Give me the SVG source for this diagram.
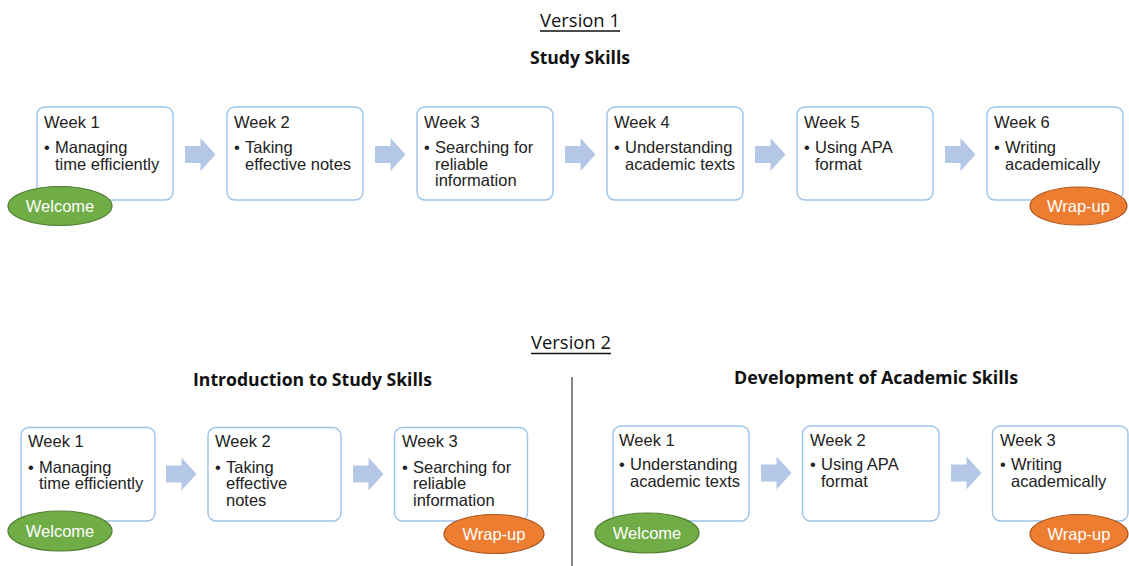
<svg xmlns="http://www.w3.org/2000/svg" xmlns:xlink="http://www.w3.org/1999/xlink" width="1129" height="566" viewBox="0 0 1129 566">
<defs>
<style>
.box{fill:#fff;stroke:#9DC3E6;stroke-width:1.4}
.t{font-family:"Liberation Sans",Arial,sans-serif;font-size:16.5px;fill:#222}
.h{font-family:"Open Sans","Liberation Sans",sans-serif;font-size:19px;fill:#111;text-anchor:middle}
.hb{font-family:"Open Sans","Liberation Sans",sans-serif;font-size:17.5px;font-weight:bold;fill:#111;text-anchor:middle}
.arr{fill:#B4C7E7}
.wel{fill:#70AD47;stroke:#507E32;stroke-width:1.2}
.wrap{fill:#ED7D31;stroke:#AE5A21;stroke-width:1.2}
.et{font-family:"Liberation Sans",Arial,sans-serif;font-size:16.5px;fill:#fff;text-anchor:middle}
</style>
<path id="arrow" class="arr" d="M0,-8.5 H15.5 V-16.5 L30.5,0 L15.5,16.5 V8.5 H0 Z"/>
</defs>
<rect width="1129" height="566" fill="#fff"/>

<g id="titles">
<text class="h" x="580" y="27" textLength="80" lengthAdjust="spacingAndGlyphs">Version 1</text>
<line x1="540" y1="31" x2="620" y2="31" stroke="#111" stroke-width="1.3"/>
<text class="hb" x="580" y="63.5" textLength="100" lengthAdjust="spacingAndGlyphs">Study Skills</text>
<text class="h" x="571" y="349" textLength="80" lengthAdjust="spacingAndGlyphs">Version 2</text>
<line x1="531" y1="353.5" x2="611" y2="353.5" stroke="#111" stroke-width="1.3"/>
<text class="hb" x="312.5" y="386" textLength="239" lengthAdjust="spacingAndGlyphs">Introduction to Study Skills</text>
<text class="hb" x="876" y="384" textLength="284" lengthAdjust="spacingAndGlyphs">Development of Academic Skills</text>
<line x1="572" y1="377" x2="572" y2="566" stroke="#444" stroke-width="1.3"/>
</g>

<g id="connectors">
<use xlink:href="#arrow" x="185" y="154.5"/>
<use xlink:href="#arrow" x="375" y="154.5"/>
<use xlink:href="#arrow" x="565" y="154.5"/>
<use xlink:href="#arrow" x="755" y="154.5"/>
<use xlink:href="#arrow" x="945" y="154.5"/>
<use xlink:href="#arrow" x="166" y="474"/>
<use xlink:href="#arrow" x="353" y="474"/>
<use xlink:href="#arrow" x="761" y="473"/>
<use xlink:href="#arrow" x="951" y="473"/>
</g>

<!-- Version 1 -->
<g id="v1-week1">
<rect class="box" x="37" y="107" width="136" height="93" rx="8"/>
<text class="t" x="44" y="128">Week 1</text>
<text class="t" x="44" y="153">•</text>
<text class="t" x="55" y="153">Managing</text>
<text class="t" x="55" y="169.5">time efficiently</text>
</g>
<g id="v1-week2">
<rect class="box" x="227" y="107" width="136" height="93" rx="8"/>
<text class="t" x="234" y="128">Week 2</text>
<text class="t" x="234" y="153">•</text>
<text class="t" x="245" y="153">Taking</text>
<text class="t" x="245" y="169.5">effective notes</text>
</g>
<g id="v1-week3">
<rect class="box" x="417" y="107" width="136" height="93" rx="8"/>
<text class="t" x="424" y="128">Week 3</text>
<text class="t" x="424" y="153">•</text>
<text class="t" x="435" y="153">Searching for</text>
<text class="t" x="435" y="169.5">reliable</text>
<text class="t" x="435" y="186">information</text>
</g>
<g id="v1-week4">
<rect class="box" x="607" y="107" width="136" height="93" rx="8"/>
<text class="t" x="614" y="128">Week 4</text>
<text class="t" x="614" y="153">•</text>
<text class="t" x="625" y="153">Understanding</text>
<text class="t" x="625" y="169.5">academic texts</text>
</g>
<g id="v1-week5">
<rect class="box" x="797" y="107" width="136" height="93" rx="8"/>
<text class="t" x="804" y="128">Week 5</text>
<text class="t" x="804" y="153">•</text>
<text class="t" x="815" y="153">Using APA</text>
<text class="t" x="815" y="169.5">format</text>
</g>
<g id="v1-week6">
<rect class="box" x="987" y="107" width="136" height="93" rx="8"/>
<text class="t" x="994" y="128">Week 6</text>
<text class="t" x="994" y="153">•</text>
<text class="t" x="1005" y="153">Writing</text>
<text class="t" x="1005" y="169.5">academically</text>
</g>
<g id="v1-welcome">
<ellipse class="wel" cx="60" cy="206" rx="52" ry="19.5"/>
<text class="et" x="60" y="212">Welcome</text>
</g>
<g id="v1-wrapup">
<ellipse class="wrap" cx="1078.5" cy="206" rx="48.5" ry="19"/>
<text class="et" x="1078.5" y="212">Wrap-up</text>
</g>

<!-- Version 2 left -->
<g id="v2a-week1">
<rect class="box" x="21" y="427.5" width="134" height="93.5" rx="8"/>
<text class="t" x="28" y="447">Week 1</text>
<text class="t" x="28" y="472.5">•</text>
<text class="t" x="39" y="472.5">Managing</text>
<text class="t" x="39" y="489">time efficiently</text>
</g>
<g id="v2a-week2">
<rect class="box" x="208" y="427.5" width="133" height="93.5" rx="8"/>
<text class="t" x="215" y="447">Week 2</text>
<text class="t" x="215" y="472.5">•</text>
<text class="t" x="226" y="472.5">Taking</text>
<text class="t" x="226" y="489">effective</text>
<text class="t" x="226" y="505.5">notes</text>
</g>
<g id="v2a-week3">
<rect class="box" x="394.5" y="427.5" width="133" height="93.5" rx="8"/>
<text class="t" x="402" y="447">Week 3</text>
<text class="t" x="402" y="472.5">•</text>
<text class="t" x="413" y="472.5">Searching for</text>
<text class="t" x="413" y="489">reliable</text>
<text class="t" x="413" y="505.5">information</text>
</g>
<g id="v2a-welcome">
<ellipse class="wel" cx="60" cy="531" rx="52" ry="20"/>
<text class="et" x="60" y="537">Welcome</text>
</g>
<g id="v2a-wrapup">
<ellipse class="wrap" cx="494" cy="534" rx="50" ry="19.5"/>
<text class="et" x="494" y="540">Wrap-up</text>
</g>

<!-- Version 2 right -->
<g id="v2b-week1">
<rect class="box" x="613" y="426" width="136" height="95" rx="8"/>
<text class="t" x="619" y="446">Week 1</text>
<text class="t" x="619" y="470">•</text>
<text class="t" x="630" y="470">Understanding</text>
<text class="t" x="630" y="486.5">academic texts</text>
</g>
<g id="v2b-week2">
<rect class="box" x="802.5" y="426" width="136.5" height="95" rx="8"/>
<text class="t" x="810" y="446">Week 2</text>
<text class="t" x="810" y="470">•</text>
<text class="t" x="821" y="470">Using APA</text>
<text class="t" x="821" y="486.5">format</text>
</g>
<g id="v2b-week3">
<rect class="box" x="992.5" y="426" width="135.5" height="95" rx="8"/>
<text class="t" x="1000" y="446">Week 3</text>
<text class="t" x="1000" y="470">•</text>
<text class="t" x="1011" y="470">Writing</text>
<text class="t" x="1011" y="486.5">academically</text>
</g>
<g id="v2b-welcome">
<ellipse class="wel" cx="647" cy="533" rx="52" ry="20"/>
<text class="et" x="647" y="539">Welcome</text>
</g>
<g id="v2b-wrapup">
<ellipse class="wrap" cx="1079" cy="534" rx="49" ry="19.5"/>
<text class="et" x="1079" y="540">Wrap-up</text>
</g>
</svg>
